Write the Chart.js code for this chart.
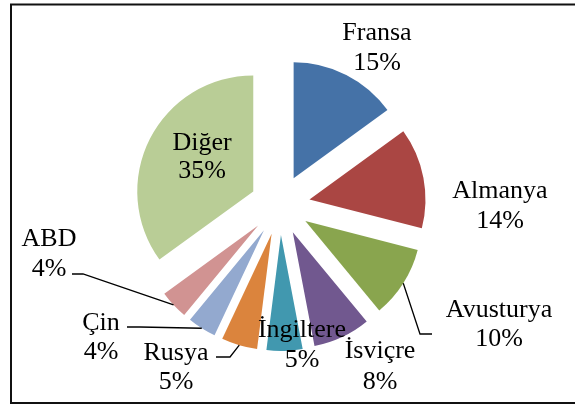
<!DOCTYPE html>
<html>
<head>
<meta charset="utf-8">
<script src="https://cdn.jsdelivr.net/npm/chart.js@4/dist/chart.umd.min.js"></script>
<style>
  body { margin: 0; background: #fff; }
  #wrap { width: 575px; height: 405px; }
</style>
</head>
<body>
<div id="wrap"><canvas id="pie" width="575" height="405"></canvas></div>
<script>
const countries = ['Fransa', 'Almanya', 'Avusturya', 'İsviçre', 'İngiltere', 'Rusya', 'Çin', 'ABD', 'Diğer'];
const shares = [15, 14, 10, 8, 5, 5, 4, 4, 35];
const sliceColors = ['#4572A7', '#AA4643', '#89A54E', '#71588F', '#4198AF', '#DB843D', '#93A9CF', '#D19392', '#B9CD96'];

// where each two-line label sits (centre x, first and second baseline)
const labelSpots = [
    [377, 40, 70],
    [500, 198, 228],
    [499, 317, 346],
    [380, 358, 389],
    [302, 337, 367],
    [176, 360, 389],
    [101, 330, 359],
    [49, 246, 276],
    [202, 150, 178]
];
// leader lines: [slice index, elbow x, elbow y, end x, end y]
const leaders = [
    [2, 420, 334, 432, 334],
    [5, 230, 357, 216, 357],
    [6, 140, 327, 127, 327],
    [7, 83, 274, 72, 274]
];

const explode = 30;

const explodedPie = {
    id: 'explodedPie',
    beforeDatasetDraw(chart, args) {
        const ctx = chart.ctx;
        args.meta.data.forEach(arc => {
            const half = (arc.startAngle + arc.endAngle) / 2;
            ctx.save();
            ctx.translate(Math.cos(half) * explode, Math.sin(half) * explode);
            arc.draw(ctx);
            ctx.restore();
        });
        return false;
    },
    afterDraw(chart) {
        const ctx = chart.ctx;
        const arcs = chart.getDatasetMeta(0).data;
        ctx.save();

        // leader lines
        ctx.strokeStyle = '#000';
        ctx.lineWidth = 1.3;
        leaders.forEach(([i, ex, ey, tx, ty]) => {
            const a = arcs[i];
            const half = (a.startAngle + a.endAngle) / 2;
            const r = a.outerRadius + explode;
            ctx.beginPath();
            ctx.moveTo(a.x + Math.cos(half) * r, a.y + Math.sin(half) * r);
            ctx.lineTo(ex, ey);
            ctx.lineTo(tx, ty);
            ctx.stroke();
        });

        // labels
        ctx.fillStyle = '#000';
        ctx.font = '26px "Liberation Serif", "Times New Roman", serif';
        ctx.textAlign = 'center';
        ctx.textBaseline = 'alphabetic';
        countries.forEach((name, i) => {
            const [x, y1, y2] = labelSpots[i];
            ctx.fillText(name, x, y1);
            ctx.fillText(shares[i] + '%', x, y2);
        });

        // chart frame
        ctx.strokeStyle = '#111';
        ctx.lineWidth = 2;
        ctx.strokeRect(11, 4.5, 620, 398.5);
        ctx.restore();
    }
};

new Chart(document.getElementById('pie'), {
    type: 'pie',
    data: {
        labels: countries,
        datasets: [{
            data: shares,
            backgroundColor: sliceColors,
            borderWidth: 0
        }]
    },
    options: {
        responsive: false,
        animation: false,
        radius: 116,
        layout: { padding: { left: 0, right: 15, top: 5, bottom: 0 } },
        plugins: {
            legend: { display: false },
            tooltip: { enabled: false }
        }
    },
    plugins: [explodedPie]
});
</script>
</body>
</html>
